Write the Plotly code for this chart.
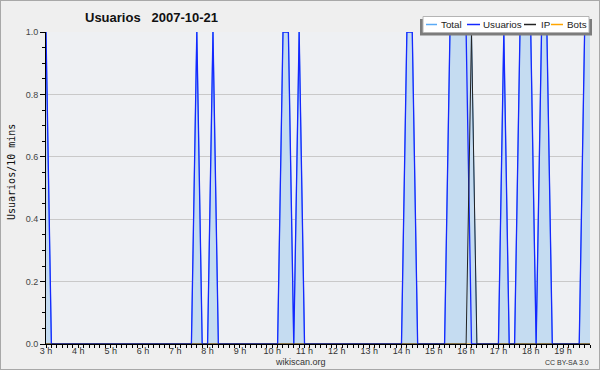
import plotly.graph_objects as go

# ---------------- data (10-minute buckets from 03:00 to 19:50) ----------------
start_hour = 3
step_minutes = 10
usuarios = [1, 0, 0, 0, 0, 0, 0, 0, 0, 0, 0, 0,
            0, 0, 0, 0, 0, 0, 0, 0, 0, 0, 0, 0,
            0, 0, 0, 0, 1, 0, 0, 1, 0, 0, 0, 0,
            0, 0, 0, 0, 0, 0, 0, 0, 1, 1, 0, 1,
            0, 0, 0, 0, 0, 0, 0, 0, 0, 0, 0, 0,
            0, 0, 0, 0, 0, 0, 0, 1, 1, 0, 0, 0,
            0, 0, 0, 1, 1, 1, 1, 0, 0, 0, 0, 0,
            0, 1, 0, 0, 1, 1, 1, 0, 1, 1, 0, 0,
            0, 0, 0, 0, 1, 1]
ip = [0, 0, 0, 0, 0, 0, 0, 0, 0, 0, 0, 0,
      0, 0, 0, 0, 0, 0, 0, 0, 0, 0, 0, 0,
      0, 0, 0, 0, 0, 0, 0, 0, 0, 0, 0, 0,
      0, 0, 0, 0, 0, 0, 0, 0, 0, 0, 0, 0,
      0, 0, 0, 0, 0, 0, 0, 0, 0, 0, 0, 0,
      0, 0, 0, 0, 0, 0, 0, 0, 0, 0, 0, 0,
      0, 0, 0, 0, 0, 0, 0, 1, 0, 0, 0, 0,
      0, 0, 0, 0, 0, 0, 0, 0, 0, 0, 0, 0,
      0, 0, 0, 0, 0, 0]
total = [1, 0, 0, 0, 0, 0, 0, 0, 0, 0, 0, 0,
         0, 0, 0, 0, 0, 0, 0, 0, 0, 0, 0, 0,
         0, 0, 0, 0, 1, 0, 0, 1, 0, 0, 0, 0,
         0, 0, 0, 0, 0, 0, 0, 0, 1, 1, 0, 1,
         0, 0, 0, 0, 0, 0, 0, 0, 0, 0, 0, 0,
         0, 0, 0, 0, 0, 0, 0, 1, 1, 0, 0, 0,
         0, 0, 0, 1, 1, 1, 1, 1, 0, 0, 0, 0,
         0, 1, 0, 0, 1, 1, 1, 0, 1, 1, 0, 0,
         0, 0, 0, 0, 1, 1]
bots = [0] * 102
hour_ticks = list(range(3, 20))
hour_labels = [f"{h} h" for h in hour_ticks]
series_names = ["Total", "Usuarios", "IP", "Bots"]
series_colors = ["#5aaaf5", "#1428ff", "#222222", "#ffa500"]

x = [start_hour + i * step_minutes / 60 for i in range(len(usuarios))]

# ---------------- layout geometry ----------------
W, H = 600, 370
L, R, T, B = 46, 10, 32, 26
PW, PH = W - L - R, H - T - B
FONT = "Liberation Sans, Arial, sans-serif"


def px(v):
    return (v - L) / PW


def py(v):
    return (H - B - v) / PH


fig = go.Figure()
fig.add_trace(go.Scatter(x=x, y=total, name=series_names[0], mode="lines",
                         line=dict(color=series_colors[0], width=1),
                         fill="tozeroy", fillcolor="#c5dcf1"))
fig.add_trace(go.Scatter(x=x, y=bots, name=series_names[3], mode="lines",
                         line=dict(color=series_colors[3], width=1)))
fig.add_trace(go.Scatter(x=x, y=usuarios, name=series_names[1], mode="lines",
                         line=dict(color=series_colors[1], width=1.3)))
fig.add_trace(go.Scatter(x=x, y=ip, name=series_names[2], mode="lines",
                         line=dict(color=series_colors[2], width=1)))

shapes = []
annotations = []

# outer image border
shapes.append(dict(type="rect", xref="paper", yref="paper",
                   x0=px(0), x1=px(W), y0=py(H), y1=py(0),
                   line=dict(color="#a8a8a8", width=2), fillcolor="rgba(0,0,0,0)"))

# custom legend box
shapes.append(dict(type="rect", xref="paper", yref="paper", layer="above",
                   x0=px(420), x1=px(592), y0=py(35.5), y1=py(19),
                   line=dict(width=0), fillcolor="#7c7c7c"))
shapes.append(dict(type="rect", xref="paper", yref="paper", layer="above",
                   x0=px(423), x1=px(589), y0=py(32.5), y1=py(16.5),
                   line=dict(color="#b4b4b4", width=1), fillcolor="#ffffff"))
leg_line_x = [(426, 437), (467, 480), (524, 536), (551, 563)]
leg_text_x = [440, 481.5, 539.5, 566]
leg_y = 24.5
for name, col, (a, b), tx in zip(series_names, series_colors, leg_line_x, leg_text_x):
    shapes.append(dict(type="line", xref="paper", yref="paper", layer="above",
                       x0=px(a), x1=px(b), y0=py(leg_y), y1=py(leg_y),
                       line=dict(color=col, width=1.5)))
    annotations.append(dict(text=name, xref="paper", yref="paper",
                            x=px(tx), y=py(leg_y), xanchor="left", yanchor="middle",
                            showarrow=False, borderpad=0,
                            font=dict(family=FONT, size=9.8, color="#222")))

# axis title and footer texts
annotations.append(dict(text="Usuarios/10 mins", xref="paper", yref="paper",
                        x=px(11), y=py(172), textangle=-90, showarrow=False,
                        xanchor="center", yanchor="middle",
                        font=dict(family="DejaVu Sans Mono, monospace", size=10, color="#111")))
annotations.append(dict(text="wikiscan.org", xref="paper", yref="paper",
                        x=px(300), y=py(362), showarrow=False, borderpad=0,
                        xanchor="center", yanchor="middle",
                        font=dict(family=FONT, size=9, color="#333")))
annotations.append(dict(text="CC BY-SA 3.0", xref="paper", yref="paper",
                        x=px(590), y=py(362), showarrow=False, borderpad=0,
                        xanchor="right", yanchor="middle",
                        font=dict(family=FONT, size=7, color="#333")))

fig.update_layout(
    width=W, height=H,
    margin=dict(l=L, r=R, t=T, b=B, pad=0),
    paper_bgcolor="#efefef", plot_bgcolor="#eef0f3",
    showlegend=False,
    title=dict(text="<b>Usuarios\u00a0\u00a0 2007-10-21</b>", x=85 / W, xanchor="left",
               xref="container", yref="container", y=1 - 17 / H, yanchor="middle",
               font=dict(family=FONT, size=13, color="#111")),
    shapes=shapes, annotations=annotations,
    xaxis=dict(range=[x[0], x[-1]], tickmode="array", tickvals=hour_ticks,
               ticktext=hour_labels, ticks="outside", ticklen=3, tickcolor="black",
               showline=True, linecolor="black", linewidth=1, showgrid=False,
               zeroline=False, ticklabelstandoff=-5,
               tickfont=dict(family=FONT, size=9, color="#333"),
               minor=dict(tickmode="linear", tick0=3, dtick=1 / 6, ticks="outside",
                          ticklen=3, tickcolor="black", showgrid=False)),
    yaxis=dict(range=[0, 1], tickmode="linear", tick0=0, dtick=0.2, tickformat=".1f",
               ticks="outside", ticklen=5, tickcolor="black",
               showline=True, linecolor="black", linewidth=1,
               showgrid=True, gridcolor="#c9c9c9", gridwidth=1, zeroline=False,
               tickfont=dict(family=FONT, size=9, color="#444"),
               minor=dict(tickmode="linear", tick0=0, dtick=0.05, ticks="outside",
                          ticklen=3, tickcolor="black", showgrid=False)),
)

fig.write_html("out.html")
